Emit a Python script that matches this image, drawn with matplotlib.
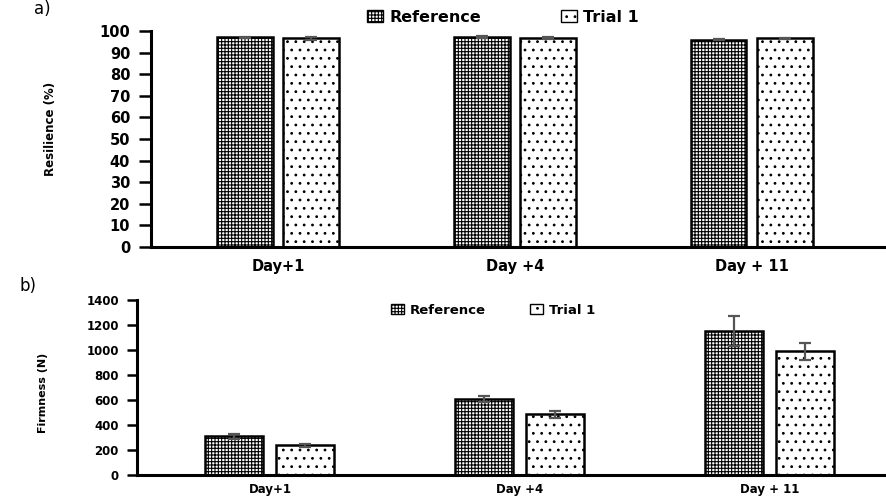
import matplotlib
matplotlib.use("Agg")
import matplotlib.pyplot as plt
import numpy as np
from matplotlib.patches import Patch

# ---- data ----
days = ["Day+1", "Day +4", "Day + 11"]
series = ["Reference", "Trial 1"]

resilience_ref = [97.0, 97.3, 96.0]
resilience_trial = [96.6, 96.6, 96.6]
resilience_ref_err = [0.4, 0.6, 0.3]
resilience_trial_err = [0.7, 0.5, 0.3]

firmness_ref = [312, 608, 1155]
firmness_trial = [237, 485, 990]
firmness_ref_err = [20, 27, 120]
firmness_trial_err = [10, 28, 70]

resilience_ticks = list(range(0, 101, 10))
firmness_ticks = list(range(0, 1401, 200))

plt.rcParams["font.family"] = ["DejaVu Sans"]
plt.rcParams["hatch.linewidth"] = 0.8

fig = plt.figure(figsize=(8.87, 4.98), dpi=100)

REF_HATCH = "+++++"
TRIAL_HATCH = ".."
ERR_COLOR = "#555555"


def draw_panel(ax, ref, trial, ref_err, trial_err, width, offset, ticks, ylim,
               xlim, tick_fs, ylabel, ylabel_fs, xlab_pad, tick_len):
    x = np.arange(len(days))
    ax.bar(x - offset, ref, width, color="white", edgecolor="black",
           hatch=REF_HATCH, linewidth=1.8, zorder=2)
    ax.bar(x + offset, trial, width, color="white", edgecolor="black",
           hatch=TRIAL_HATCH, linewidth=1.8, zorder=2)
    ax.errorbar(x - offset, ref, yerr=ref_err, fmt="none", ecolor=ERR_COLOR,
                elinewidth=1.6, capsize=4, capthick=1.6, zorder=3)
    ax.errorbar(x + offset, trial, yerr=trial_err, fmt="none", ecolor=ERR_COLOR,
                elinewidth=1.6, capsize=4, capthick=1.6, zorder=3)
    ax.set_xlim(*xlim)
    ax.set_ylim(*ylim)
    ax.set_yticks(ticks)
    ax.set_yticklabels([str(t) for t in ticks], fontsize=tick_fs,
                       fontweight="bold")
    ax.set_xticks(x)
    ax.set_xticklabels(days, fontsize=tick_fs, fontweight="bold")
    ax.tick_params(axis="x", length=0, pad=xlab_pad)
    ax.tick_params(axis="y", length=tick_len, width=1.8, direction="out", pad=6)
    for s in ("top", "right"):
        ax.spines[s].set_visible(False)
    for s in ("left", "bottom"):
        ax.spines[s].set_linewidth(2.2)
    ax.set_ylabel(ylabel, fontsize=ylabel_fs, fontweight="bold")


# top panel: resilience
ax1 = fig.add_axes([151 / 887, 1 - 247 / 498, 1 - 151 / 887, (247 - 31) / 498])
draw_panel(ax1, resilience_ref, resilience_trial, resilience_ref_err,
           resilience_trial_err, 0.236, 0.141, resilience_ticks, (0, 100),
           (-0.536, 2.57), 10.5, "Resilience (%)", 8.5, 9, 9)
ax1.yaxis.set_label_coords(-0.128, 0.546)

# bottom panel: firmness
ax2 = fig.add_axes([137 / 887, 1 - 475 / 498, 1 - 137 / 887, (475 - 300) / 498])
draw_panel(ax2, firmness_ref, firmness_trial, firmness_ref_err,
           firmness_trial_err, 0.232, 0.142, firmness_ticks, (0, 1400),
           (-0.532, 2.47), 8.5, "Firmness (N)", 8, 6, 7)
ax2.yaxis.set_label_coords(-0.118, 0.47)

# legends
handles = [Patch(facecolor="white", edgecolor="black", hatch=REF_HATCH, label=series[0]),
           Patch(facecolor="white", edgecolor="black", hatch=TRIAL_HATCH, label=series[1])]
fig.legend(handles=handles, loc="center", bbox_to_anchor=(503 / 887, 1 - 17 / 498),
           ncol=2, frameon=False, prop={"weight": "bold", "size": 11.5},
           handlelength=1.0, handleheight=0.8, handletextpad=0.4, columnspacing=5.0)
fig.legend(handles=handles, loc="center", bbox_to_anchor=(493 / 887, 1 - 310 / 498),
           ncol=2, frameon=False, prop={"weight": "bold", "size": 9.5},
           handlelength=1.0, handleheight=0.8, handletextpad=0.4, columnspacing=3.4)

# panel letters
fig.text(42 / 887, 1.0, "a)", fontsize=12, ha="center", va="top")
fig.text(28 / 887, 1 - 277 / 498, "b)", fontsize=12, ha="center", va="top")

fig.savefig("out.png", dpi=100)
